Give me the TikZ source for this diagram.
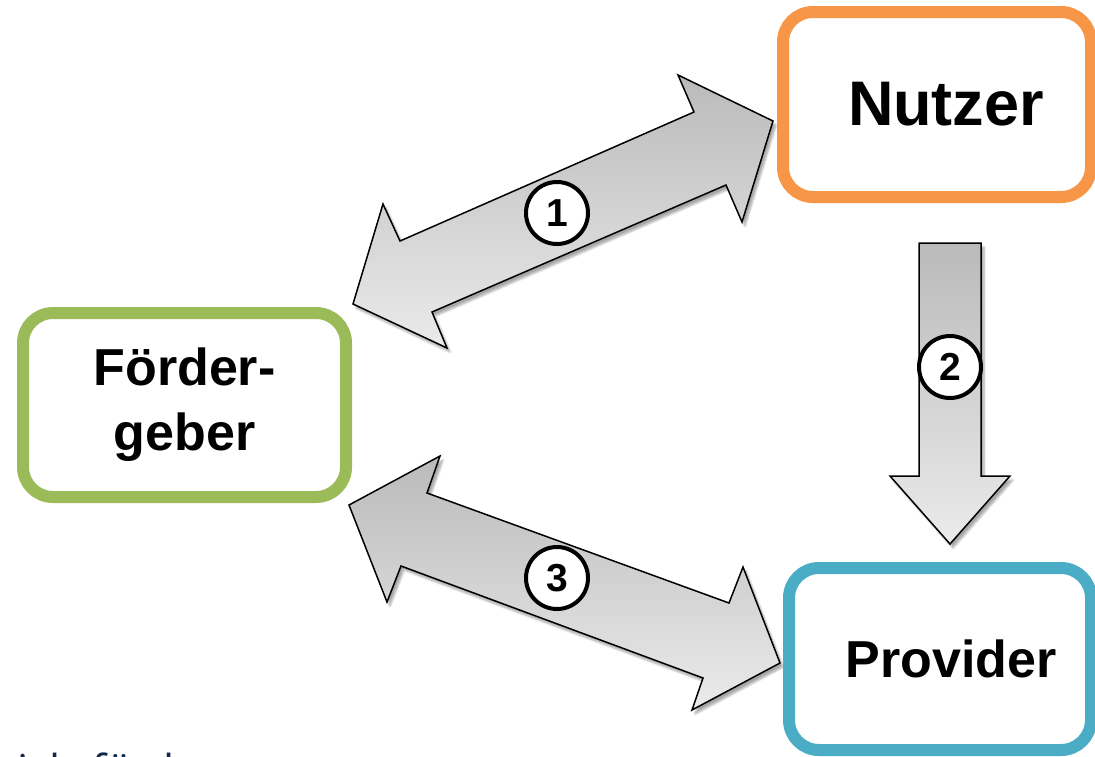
\documentclass[tikz,border=0pt]{standalone}
\usepackage{fontspec}
\setmainfont{Liberation Sans}
\newfontfamily\slidefont{Open Sans}
\usetikzlibrary{shadows.blur}
\definecolor{boxorange}{HTML}{F79646}
\definecolor{boxgreen}{HTML}{9BBB59}
\definecolor{boxblue}{HTML}{4BACC6}
\definecolor{navy}{HTML}{14284B}
\tikzset{
  party/.style={draw=#1, line width=12pt, rounded corners=30pt, fill=white,
    font=\fontsize{52}{65}\selectfont\bfseries, align=center, inner sep=0pt},
  blockarrow/.style={draw=black, line width=1.5pt, line join=miter,
    top color=black!27, bottom color=black!8,
    blur shadow={shadow xshift=3pt, shadow yshift=-4pt, shadow blur steps=6, shadow opacity=35}},
  numcircle/.style={circle, draw=black, line width=4pt, fill=white, minimum size=62pt,
    inner sep=0pt, font=\fontsize{39}{39}\selectfont\bfseries},
}
\begin{document}
\begin{tikzpicture}[x=1pt,y=-1pt]
\useasboundingbox (0,0) rectangle (1095,756);
% clipped slide text at the bottom
\begin{scope}
\clip (0,0) rectangle (1095,756);
\node[anchor=base west, text=navy, font=\slidefont\fontsize{44}{44}\selectfont, inner sep=0pt] (slidetext) at (-4,786) {sichtfür l};
\end{scope}
% arrows
\path[blockarrow] (773,121) -- (678,75) -- (694,112) -- (400,241) -- (383,204) -- (353,304)
  -- (447,348) -- (432,312) -- (726,185) -- (742,222) -- cycle;
\path[blockarrow] (919,243) -- (981,243) -- (981,476) -- (1010,476) -- (950,544)
  -- (890,476) -- (919,476) -- cycle;
\path[blockarrow] (349,505) -- (440,456) -- (427,493) -- (729,603) -- (743,567) -- (780,663)
  -- (692,710) -- (703,678) -- (401,566) -- (387,602) -- cycle;
% parties
\node[party=boxorange, minimum width=308pt, minimum height=185pt] (nutzer) at (937,104.5)
  {\fontsize{63}{70}\selectfont\hspace*{18pt}Nutzer};
\node[party=boxgreen, minimum width=323pt, minimum height=184pt] (foerder) at (184.5,405)
  {Förder-\\geber};
\node[party=boxblue, minimum width=302pt, minimum height=182pt] (provider) at (940,659)
  {\hspace*{22pt}Provider};
% numbers
\node[numcircle] (n1) at (557,213) {1};
\node[numcircle] (n2) at (950,367) {2};
\node[numcircle] (n3) at (557,578) {3};
\end{tikzpicture}
\end{document}
